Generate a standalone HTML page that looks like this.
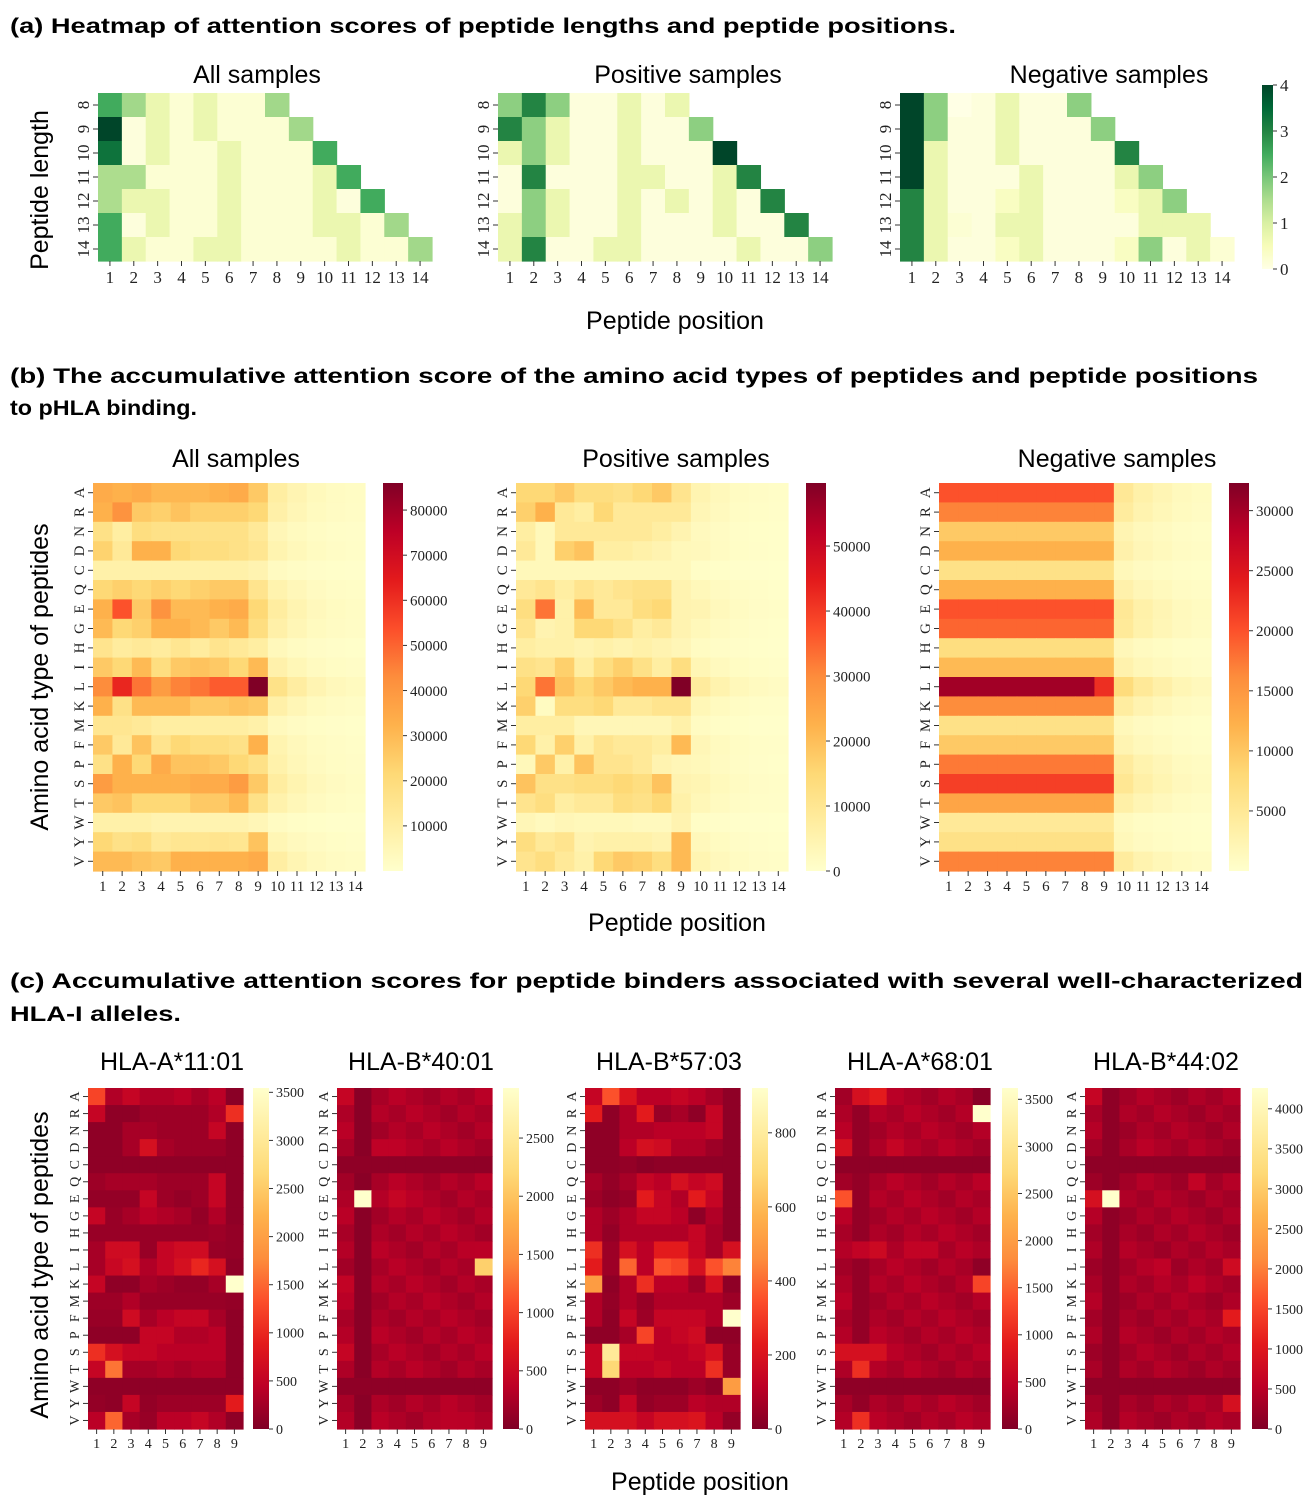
<!DOCTYPE html>
<html><head><meta charset="utf-8"><style>
html,body{margin:0;padding:0;background:#fff;}
svg{display:block;}
</style></head><body>
<svg id="s" xmlns="http://www.w3.org/2000/svg" width="1313" height="1500" viewBox="0 0 1313 1500">
<g font-family="Liberation Sans, Arial, sans-serif" font-weight="bold" font-size="21" fill="#000">
<text x="10" y="33" textLength="946" lengthAdjust="spacingAndGlyphs">(a) Heatmap of attention scores of peptide lengths and peptide positions.</text>
<text x="10" y="383" textLength="1248" lengthAdjust="spacingAndGlyphs">(b) The accumulative attention score of the amino acid types of peptides and peptide positions</text>
<text x="10" y="415" textLength="187" lengthAdjust="spacingAndGlyphs">to pHLA binding.</text>
<text x="10" y="988" textLength="1293" lengthAdjust="spacingAndGlyphs">(c) Accumulative attention scores for peptide binders associated with several well-characterized</text>
<text x="10" y="1021" textLength="171" lengthAdjust="spacingAndGlyphs">HLA-I alleles.</text>
</g>
<g font-family="Liberation Sans, Arial, sans-serif" font-size="25" fill="#000" text-anchor="middle">
<text x="257" y="83">All samples</text>
<text x="688" y="83">Positive samples</text>
<text x="1109" y="83">Negative samples</text>
<text x="675" y="329">Peptide position</text>
<text transform="translate(48,190) rotate(-90)">Peptide length</text>
<text x="236" y="467">All samples</text>
<text x="676" y="467">Positive samples</text>
<text x="1117" y="467">Negative samples</text>
<text x="677" y="931">Peptide position</text>
<text transform="translate(48,677) rotate(-90)">Amino acid type of peptides</text>
<text x="172" y="1070">HLA-A*11:01</text>
<text x="421" y="1070">HLA-B*40:01</text>
<text x="669" y="1070">HLA-B*57:03</text>
<text x="920" y="1070">HLA-A*68:01</text>
<text x="1166" y="1070">HLA-B*44:02</text>
<text x="700" y="1490">Peptide position</text>
<text transform="translate(48,1265) rotate(-90)">Amino acid type of peptides</text>
</g>
<g id="g"></g>
</svg>
<script>
var NS="http://www.w3.org/2000/svg";
var G=document.getElementById("g");
var defs=document.createElementNS(NS,"defs");G.appendChild(defs);
function el(t,a,txt){var e=document.createElementNS(NS,t);for(var k in a)e.setAttribute(k,a[k]);if(txt!=null)e.textContent=txt;G.appendChild(e);return e;}
var YlGn=["#ffffe5","#f7fcb9","#d9f0a3","#addd8e","#78c679","#41ab5d","#238443","#006837","#004529"];
var YlOrRd=["#ffffcc","#ffeda0","#fed976","#feb24c","#fd8d3c","#fc4e2a","#e31a1c","#bd0026","#800026"];
var YlOrRdR=YlOrRd.slice().reverse();
function h2r(h){return[parseInt(h.substr(1,2),16),parseInt(h.substr(3,2),16),parseInt(h.substr(5,2),16)];}
function cm(st,t){t=Math.max(0,Math.min(1,t));var f=t*(st.length-1),i=Math.min(st.length-2,Math.floor(f)),u=f-i;var a=h2r(st[i]),b=h2r(st[i+1]);
return "rgb("+[0,1,2].map(function(k){return Math.round(a[k]+(b[k]-a[k])*u)}).join(",")+")";}
var gid=0;
function cbar(x,y,w,h,st,ticks,vmax,fs){
 var id="gr"+(gid++);var lg=document.createElementNS(NS,"linearGradient");
 lg.setAttribute("id",id);lg.setAttribute("x1","0");lg.setAttribute("y1","1");lg.setAttribute("x2","0");lg.setAttribute("y2","0");
 st.forEach(function(c,i){var s=document.createElementNS(NS,"stop");s.setAttribute("offset",i/(st.length-1));s.setAttribute("stop-color",c);lg.appendChild(s);});
 defs.appendChild(lg);
 el("rect",{x:x,y:y,width:w,height:h,fill:"url(#"+id+")"});
 ticks.forEach(function(v){var yy=y+h-v/vmax*h;el("line",{x1:x+w,x2:x+w+4,y1:yy,y2:yy,stroke:"#333","stroke-width":1});
  el("text",{x:x+w+7,y:yy+fs*0.35,"font-family":"Liberation Serif, serif","font-size":fs,fill:"#222"},String(v));});
}
function hm(x0,y0,w,h,data,ncol,vmax,st,rl,cl,fs){
 var nr=data.length,cw=w/ncol,ch=h/nr;
 data.forEach(function(row,r){row.forEach(function(v,c){if(v==null)return;
  el("rect",{x:(x0+c*cw).toFixed(2),y:(y0+r*ch).toFixed(2),width:(cw+0.6).toFixed(2),height:(ch+0.6).toFixed(2),fill:cm(st,v/vmax)});});});
 for(var r=0;r<nr;r++){var yy=y0+(r+0.5)*ch;el("line",{x1:x0-5,x2:x0,y1:yy,y2:yy,stroke:"#333"});
  el("text",{transform:"translate("+(x0-9)+","+yy+") rotate(-90)","text-anchor":"middle","font-family":"Liberation Serif, serif","font-size":fs,fill:"#222"},rl[r]);}
 for(var c=0;c<ncol;c++){var xx=x0+(c+0.5)*cw;el("line",{x1:xx,x2:xx,y1:y0+h,y2:y0+h+5,stroke:"#333"});
  el("text",{x:xx,y:y0+h+fs+5,"text-anchor":"middle","font-family":"Liberation Serif, serif","font-size":fs,fill:"#222"},cl[c]);}
}
function rng(a,b){var r=[];for(var i=a;i<=b;i++)r.push(String(i));return r;}
var aAll=[[2.5,1.6,.7,.2,.7,.2,.2,1.6],[4,.1,.7,.2,.7,.2,.2,.2,1.6],[3.3,.1,.7,.2,.2,.7,.2,.2,.2,2.5],[1.5,1.5,.2,.2,.2,.7,.2,.2,.2,.7,2.5],
[1.5,.7,.7,.2,.2,.7,.2,.2,.2,.7,.1,2.5],[2.5,.1,.7,.2,.2,.7,.2,.2,.2,.7,.7,.2,1.6],[2.5,.7,.2,.2,.7,.7,.2,.2,.2,.2,.7,.2,.2,1.6]];
var aPos=[[1.8,3,1.8,.1,.1,.7,.1,.7],[3,1.8,.7,.1,.1,.7,.1,.1,1.8],[.7,1.8,.7,.1,.1,.7,.1,.1,.1,4],[.1,3,.1,.1,.1,.7,.7,.1,.1,.7,3],
[.1,1.8,.7,.1,.1,.7,.1,.7,.1,.7,.1,3],[.7,1.8,.7,.1,.1,.7,.1,.1,.1,.7,.1,.1,3],[.7,3,.1,.1,.7,.7,.1,.1,.1,.1,.7,.1,.1,1.8]];
var aNeg=[[4,1.8,0,.1,.7,.1,.1,1.8],[4,1.8,.1,.1,.7,.1,.1,.1,1.8],[4,.7,.1,.1,.7,.1,.1,.1,.1,3],[4,.7,.1,.1,.1,.7,.1,.1,.1,.7,1.8],
[3,.7,.1,.1,.4,.7,.1,.1,.1,.4,.7,1.8],[3,.7,.2,.1,.7,.7,.1,.1,.1,.1,.7,.7,.7],[3,.7,.1,.1,.4,.7,.1,.1,.1,.4,1.8,.1,.7,.2]];
var rl=rng(8,14),cl=rng(1,14);
hm(98,93,334,168,aAll,14,4,YlGn,rl,cl,17);
hm(498,93,334,168,aPos,14,4,YlGn,rl,cl,17);
hm(900,93,334,168,aNeg,14,4,YlGn,rl,cl,17);
cbar(1262,85,11,184,YlGn,[0,1,2,3,4],4,17);
var AA="ARNDCQEGHILKMFPSTWYV".split("");
function ext(rows,tailF){return rows.map(function(r){var m=r.reduce(function(a,b){return a+b},0)/r.length;return r.concat(tailF(m,r));});}
function tl(m){return[m*.32,m*.2,m*.12,m*.08,m*.06];}
var bAll=ext([[.40,.38,.40,.36,.36,.36,.38,.40,.30],[.38,.48,.30,.28,.32,.28,.28,.28,.25],[.20,.12,.22,.20,.20,.20,.20,.20,.15],[.27,.15,.38,.38,.25,.22,.22,.20,.17],
[.10,.10,.10,.10,.10,.10,.10,.10,.08],[.25,.28,.25,.28,.25,.28,.30,.30,.18],[.38,.62,.30,.48,.35,.35,.38,.40,.25],[.35,.25,.28,.38,.38,.35,.30,.35,.22],
[.18,.13,.15,.13,.17,.13,.18,.15,.12],[.30,.25,.35,.22,.30,.32,.30,.25,.35],[.50,.72,.55,.45,.52,.55,.60,.60,1.0],[.38,.20,.35,.35,.35,.30,.30,.32,.30],
[.17,.17,.15,.12,.12,.12,.12,.12,.10],[.30,.15,.32,.18,.25,.22,.22,.20,.38],[.20,.38,.25,.40,.32,.32,.30,.25,.20],[.45,.38,.38,.38,.38,.40,.40,.45,.30],
[.30,.32,.25,.25,.25,.30,.30,.35,.20],[.10,.10,.10,.08,.08,.08,.08,.08,.06],[.25,.20,.22,.15,.17,.17,.18,.17,.32],[.35,.35,.32,.30,.38,.38,.38,.38,.40]],tl);
var bPos=ext([[.25,.25,.30,.22,.22,.20,.25,.30,.18],[.28,.38,.15,.12,.25,.15,.15,.15,.15],[.12,.05,.15,.15,.15,.15,.15,.12,.08],[.15,.05,.28,.32,.12,.12,.10,.08,.05],
[.05,.05,.05,.05,.05,.05,.05,.05,.05],[.15,.18,.12,.18,.15,.18,.20,.20,.08],[.22,.55,.10,.35,.15,.15,.22,.25,.08],[.18,.08,.10,.25,.25,.20,.12,.15,.08],
[.12,.10,.10,.08,.10,.08,.10,.08,.06],[.20,.18,.28,.12,.22,.28,.20,.12,.22],[.25,.55,.32,.25,.30,.35,.38,.38,1.0],[.28,.03,.22,.22,.25,.15,.15,.18,.18],
[.12,.12,.12,.06,.06,.06,.06,.06,.10],[.25,.10,.28,.10,.18,.15,.15,.12,.35],[.05,.30,.10,.32,.18,.18,.15,.08,.06],[.32,.20,.20,.22,.22,.25,.22,.32,.08],
[.18,.22,.12,.15,.15,.22,.20,.25,.10],[.06,.04,.06,.05,.05,.05,.04,.04,.08],[.22,.15,.18,.08,.10,.10,.10,.08,.35],[.18,.22,.15,.10,.25,.30,.28,.22,.35]],tl);
var nv=[.62,.52,.30,.38,.20,.38,.62,.58,.22,.35,.93,.50,.20,.30,.54,.66,.42,.15,.20,.52];
var bNeg=nv.map(function(v,i){var r=[];for(var c=0;c<9;c++)r.push(v);if(i==10)r[8]=.70;return r.concat([v*.25,v*.16,v*.11,v*.07,v*.05]);});
var cl14=rng(1,14);
hm(93,483,272,388,bAll,14,1,YlOrRd,AA,cl14,15);
hm(516,483,272,388,bPos,14,1,YlOrRd,AA,cl14,15);
hm(939,483,272,388,bNeg,14,1,YlOrRd,AA,cl14,15);
cbar(383,483,20,388,YlOrRd,[10000,20000,30000,40000,50000,60000,70000,80000],86000,15);
cbar(806,483,20,388,YlOrRd,[0,10000,20000,30000,40000,50000],59700,15);
cbar(1229,483,20,388,YlOrRd,[5000,10000,15000,20000,25000,30000],32300,15);
var c1=[[.35,.1,.15,.1,.1,.12,.08,.12,.02],[.15,.03,.03,.06,.06,.06,.06,.1,.3],[.03,.03,.08,.08,.06,.06,.06,.15,.03],[.03,.03,.08,.2,.08,.06,.06,.06,.03],
[.03,.03,.03,.03,.03,.03,.03,.03,.03],[.06,.08,.08,.08,.06,.06,.06,.15,.03],[.04,.04,.04,.15,.06,.04,.06,.15,.03],[.15,.05,.08,.12,.1,.08,.04,.1,.03],
[.05,.05,.05,.05,.05,.05,.05,.06,.04],[.08,.18,.18,.05,.15,.18,.18,.05,.04],[.08,.16,.2,.1,.15,.2,.28,.2,.03],[.15,.03,.03,.08,.06,.04,.04,.08,1.0],
[.06,.06,.1,.05,.05,.05,.05,.05,.04],[.05,.05,.18,.08,.12,.15,.15,.08,.03],[.03,.03,.03,.15,.15,.1,.1,.12,.03],[.3,.2,.15,.15,.12,.12,.12,.12,.03],
[.15,.45,.08,.08,.1,.08,.1,.1,.03],[.03,.03,.03,.03,.03,.03,.03,.03,.03],[.04,.03,.15,.04,.06,.06,.06,.06,.25],[.12,.42,.08,.05,.12,.12,.15,.1,.03]];
function base(b,col2,set){var d=[];for(var r=0;r<20;r++){var row=[];for(var c=0;c<9;c++){var v=b+((r*7+c*3)%5)*0.012;if(c==1)v=col2;if(r==4||r==17)v=0.03;row.push(v);}d.push(row);}
 for(var k in set){var p=k.split(",");d[+p[0]][+p[1]]=set[k];}return d;}
var c2=base(.07,.02,{"6,1":1,"10,8":.72,"0,0":.15,"3,2":.13,"3,3":.13,"6,3":.15,"15,0":.15,"19,6":.12,"11,0":.14,"9,8":.12});
var c3=[[.15,.38,.22,.12,.12,.15,.12,.08,.03],[.25,.03,.1,.25,.05,.08,.03,.15,.03],[.03,.03,.1,.1,.12,.12,.12,.15,.03],[.03,.03,.12,.2,.18,.1,.1,.06,.03],
[.03,.03,.04,.02,.03,.03,.03,.03,.03],[.08,.04,.08,.15,.12,.2,.15,.18,.03],[.06,.03,.05,.25,.15,.1,.25,.15,.03],[.1,.06,.1,.15,.15,.12,.03,.1,.03],
[.1,.04,.1,.1,.1,.1,.15,.08,.03],[.3,.06,.2,.12,.25,.25,.15,.08,.2],[.25,.06,.42,.12,.38,.35,.2,.38,.48],[.55,.03,.1,.3,.12,.12,.06,.2,.03],
[.1,.04,.1,.05,.1,.1,.1,.1,.06],[.1,.03,.15,.06,.15,.15,.15,.1,1.0],[.03,.03,.08,.35,.12,.15,.18,.03,.03],[.15,.85,.15,.15,.12,.12,.15,.2,.05],
[.15,.75,.12,.12,.15,.12,.12,.3,.05],[.03,.03,.06,.03,.03,.03,.06,.03,.55],[.06,.03,.15,.04,.06,.06,.12,.1,.1],[.2,.2,.2,.15,.2,.2,.22,.12,.04]];
var c4=base(.07,.04,{"1,8":1,"11,8":.35,"6,0":.38,"0,1":.2,"0,2":.25,"3,0":.2,"3,3":.15,"16,1":.3,"19,1":.3,"15,0":.2,"15,1":.2,"15,2":.2,"9,1":.14,"9,2":.17,"9,4":.14,"9,5":.14,"0,8":.02,"10,8":.03});
var c5=base(.06,.03,{"6,1":1,"13,8":.25,"18,8":.2,"10,8":.18,"0,0":.15,"6,0":.2,"5,6":.14,"11,6":.13,"10,4":.13,"3,3":.12});
var cl9=rng(1,9);
var cp=[[88,253,c1,3545,[0,500,1000,1500,2000,2500,3000,3500]],[337,503,c2,2930,[0,500,1000,1500,2000,2500]],[585,752,c3,921,[0,200,400,600,800]],
[835,1002,c4,3620,[0,500,1000,1500,2000,2500,3000,3500]],[1085,1252,c5,4260,[0,500,1000,1500,2000,2500,3000,3500,4000]]];
cp.forEach(function(p){hm(p[0],1088,155,341,p[2],9,1,YlOrRdR,AA,cl9,14);cbar(p[1],1088,16,341,YlOrRdR,p[4],p[3],14);});
</script>
</body></html>
